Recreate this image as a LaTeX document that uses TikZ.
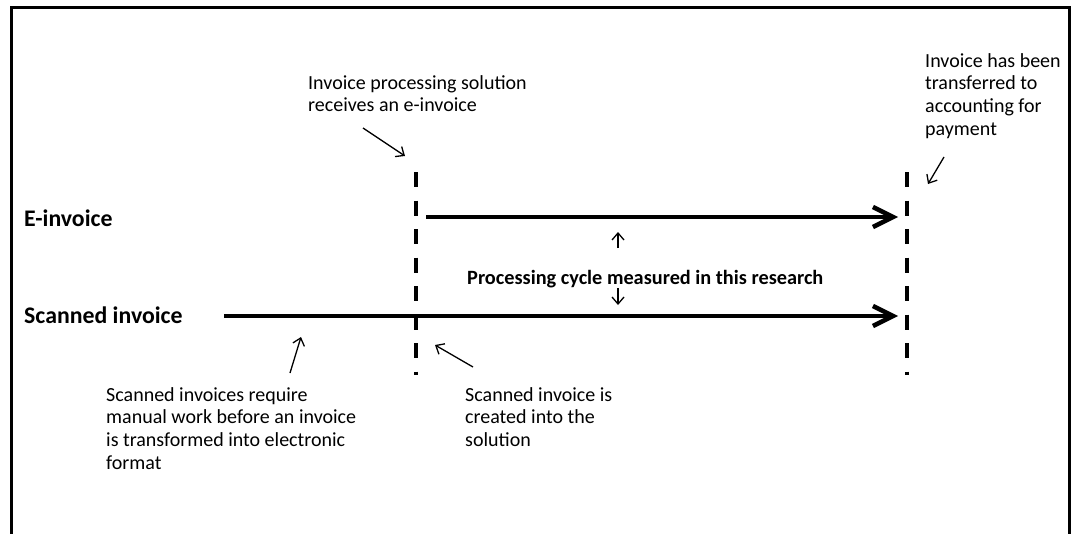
\documentclass[tikz,border=0pt]{standalone}
\usepackage{fontspec}
\setmainfont{Carlito}
\usetikzlibrary{arrows.meta}
\begin{document}
\begin{tikzpicture}[x=1pt,y=-1pt,
  txt/.style={anchor=base west, inner sep=0pt, align=left, font=\fontsize{20}{22.7}\selectfont},
  lbl/.style={anchor=base west, inner sep=0pt, font=\bfseries\fontsize{23.8}{26}\selectfont},
  midlbl/.style={anchor=base west, inner sep=0pt, font=\bfseries\fontsize{20.3}{24}\selectfont},
  frame/.style={line width=3pt, line join=miter},
  marker/.style={line width=4pt, dash pattern=on 15pt off 13.5pt},
  flow/.style={line width=4.5pt, -{Straight Barb[length=20pt,width=20pt]}},
  note/.style={line width=1.3pt, -{Straight Barb[length=7pt,width=12pt]}}]
\useasboundingbox (0,0) rectangle (1071,533);
\fill[white] (0,0) rectangle (1071,533);
\draw[frame] (11.5,540) -- (11.5,7.5) -- (1069.5,7.5) -- (1069.5,540);

% dashed markers
\coordinate (m1t) at (416,172);
\coordinate (m1b) at (416,375);
\coordinate (m2t) at (907,172);
\coordinate (m2b) at (907,375);
\draw[marker] (m1t) -- (m1b);
\draw[marker] (m2t) -- (m2b);

% flows
\coordinate (es) at (426,217);
\coordinate (ee) at (898,217);
\coordinate (ss) at (224,316);
\coordinate (se) at (898,316);
\draw[flow] (es) -- (ee);
\draw[flow] (ss) -- (se);

% labels
\node[lbl] (elbl) at (24,226) {E-invoice};
\node[lbl] (slbl) at (24,323) {Scanned invoice};
\node[midlbl] (cyc) at (467,284) {Processing cycle measured in this research};

% multi-line texts: anchored at the baseline of their last line
\node[txt] (t1) at (308,111.7) {Invoice processing solution\\receives an e-invoice};
\node[txt] (t2) at (925,135.1) {Invoice has been\\transferred to\\accounting for\\payment};
\node[txt] (t3) at (106,469.1) {Scanned invoices require\\manual work before an invoice\\is transformed into electronic\\format};
\node[txt] (t4) at (465,446.4) {Scanned invoice is\\created into the\\solution};

% annotation arrows
\coordinate (a1s) at (363,128); \coordinate (a1e) at (405,156);
\coordinate (a2s) at (944,157); \coordinate (a2e) at (928,184);
\coordinate (a3s) at (618,248); \coordinate (a3e) at (618,232);
\coordinate (a4s) at (618,288); \coordinate (a4e) at (618,305);
\coordinate (a5s) at (290,373); \coordinate (a5e) at (301,337);
\coordinate (a6s) at (473,367); \coordinate (a6e) at (435,345);
\draw[note] (a1s) -- (a1e);
\draw[note] (a2s) -- (a2e);
\draw[note] (a3s) -- (a3e);
\draw[note] (a4s) -- (a4e);
\draw[note] (a5s) -- (a5e);
\draw[note] (a6s) -- (a6e);
\end{tikzpicture}
\end{document}
